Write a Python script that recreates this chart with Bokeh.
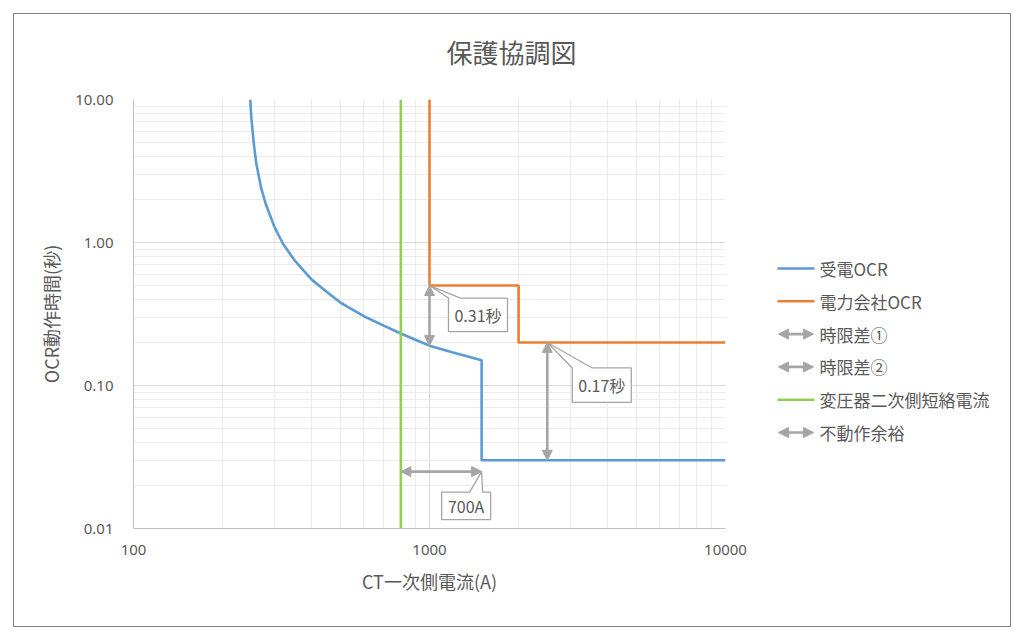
import math
from bokeh.plotting import figure
from bokeh.layouts import row
from bokeh.models import Arrow, NormalHead, FixedTicker, Range1d
from bokeh.embed import file_html
from bokeh.resources import INLINE
from bokeh.core.properties import value

# ---------------- data ----------------
title_text = "保護協調図"
x_label = "CT一次側電流(A)"
y_label = "OCR動作時間(秒)"

x_ticks = [100, 1000, 10000]
x_tick_labels = ["100", "1000", "10000"]
y_ticks = [0.01, 0.1, 1, 10]
y_tick_labels = ["0.01", "0.10", "1.00", "10.00"]

# 受電OCR
recv_I = [248, 250, 255, 260, 270, 280, 300, 320, 350, 400, 450, 500, 600, 700,
          800, 900, 1000, 1200, 1500, 1500, 10000]
recv_t = [10.0, 7.5, 4.9, 3.55, 2.4, 1.85, 1.27, 0.98, 0.75, 0.55, 0.45, 0.38, 0.305, 0.262,
          0.231, 0.208, 0.19, 0.17, 0.15, 0.03, 0.03]
# 電力会社OCR
util_I = [1000, 1000, 2000, 2000, 10000]
util_t = [10.0, 0.5, 0.5, 0.2, 0.2]
# 変圧器二次側短絡電流
tr_I = [800, 800]
tr_t = [0.01, 10.0]
# 時限差① / 時限差② / 不動作余裕
gap1_I = [1000, 1000]
gap1_t = [0.19, 0.5]
gap2_I = [2500, 2500]
gap2_t = [0.03, 0.2]
margin_I = [800, 1500]
margin_t = [0.025, 0.025]

callout_labels = ["0.31秒", "0.17秒", "700A"]
callout_anchor_I = [1000, 2500, 1500]
callout_anchor_t = [0.5, 0.2, 0.025]

legend_labels = ["受電OCR", "電力会社OCR", "時限差①", "時限差②", "変圧器二次側短絡電流", "不動作余裕"]

# ---------------- styles / geometry ----------------
BLUE, ORANGE, GREEN, GRAY = "#5B9BD5", "#ED7D31", "#92D050", "#A5A5A5"
TXT = "#595959"
JP = "Noto Sans CJK JP"
FL, FT, FW, FH = 133, 99, 592, 429      # plot frame inside the page
MW, LW, H = 760, 264, 640               # main width, legend width, height
XMIN, XMAX, YMIN, YMAX = 100, 10000, 0.01, 10


def off(ax, ay, dx, dy):
    lx = math.log10(XMAX / XMIN) / FW
    ly = math.log10(YMAX / YMIN) / FH
    return ax * 10 ** (dx * lx), ay * 10 ** (-dy * ly)


p = figure(x_axis_type="log", y_axis_type="log",
           x_range=Range1d(XMIN, XMAX), y_range=Range1d(YMIN, YMAX),
           frame_width=FW, frame_height=FH,
           min_border_left=FL, min_border_top=FT,
           min_border_right=MW - FL - FW, min_border_bottom=H - FT - FH,
           output_backend="svg", toolbar_location=None, title=title_text)
p.outline_line_color = None
p.background_fill_color = "white"
p.border_fill_color = None

p.title.align = "left"
p.title.offset = 313
p.title.standoff = 60
p.title.text_font = JP
p.title.text_font_size = "26px"
p.title.text_font_style = "normal"
p.title.text_color = TXT

x_minor = [m * 10 ** d for d in (2, 3) for m in range(1, 10)] + [10000]
y_minor = [m * 10 ** d for d in (-2, -1, 0) for m in range(1, 10)] + [10]
xt = FixedTicker(ticks=x_ticks, minor_ticks=x_minor)
yt = FixedTicker(ticks=y_ticks, minor_ticks=y_minor)
p.xaxis.ticker = xt
p.yaxis.ticker = yt
p.xgrid.ticker = xt
p.ygrid.ticker = yt
p.xaxis.major_label_overrides = {k: v for k, v in zip(x_ticks, x_tick_labels)}
p.yaxis.major_label_overrides = {k: v for k, v in zip(y_ticks, y_tick_labels)}

for g in (p.xgrid, p.ygrid):
    g.grid_line_color = "#D9D9D9"
    g.grid_line_width = 1
    g.minor_grid_line_color = "#EBEBEB"
    g.minor_grid_line_width = 1

for ax in (p.xaxis, p.yaxis):
    ax.axis_line_color = "#BFBFBF"
    ax.axis_line_width = 1
    ax.major_tick_line_color = None
    ax.minor_tick_line_color = None
    ax.major_tick_out = 0
    ax.major_tick_in = 0
    ax.minor_tick_out = 0
    ax.minor_tick_in = 0
    ax.major_label_text_color = TXT
    ax.major_label_text_font = "Noto Sans"
    ax.major_label_text_font_size = "15px"
    ax.axis_label_text_color = TXT
    ax.axis_label_text_font = JP
    ax.axis_label_text_font_size = "18px"
    ax.axis_label_text_font_style = "normal"

p.xaxis.axis_label = x_label
p.yaxis.axis_label = y_label
p.xaxis.major_label_standoff = 16
p.xaxis.axis_label_standoff = 10
p.yaxis.major_label_standoff = 20
p.yaxis.axis_label_standoff = 8

# series
p.line(recv_I, recv_t, line_color=BLUE, line_width=2.6)
p.line(util_I, util_t, line_color=ORANGE, line_width=2.6)
p.line(tr_I, tr_t, line_color=GREEN, line_width=2.6)


def head():
    return NormalHead(size=10, fill_color=GRAY, line_color=GRAY, line_width=1)


for xs, ys in ((gap1_I, gap1_t), (gap2_I, gap2_t), (margin_I, margin_t)):
    p.add_layout(Arrow(x_start=xs[0], y_start=ys[0], x_end=xs[1], y_end=ys[1],
                       start=head(), end=head(), line_color=GRAY, line_width=2.6))

# callouts (pixel offsets of box / wedge relative to their anchor)
callout_geom = [  # L, R, T, B, wedge-left, wedge-right
    (19, 78, 12.5, 46, 19, 31),
    (25, 84, 25.5, 60, 25, 45),
    (-40, 9, 20.5, 48, -12, 1),
]
cxs, cys, tx, ty = [], [], [], []
for (ax_, ay_), (L, R, T, B, wl, wr) in zip(zip(callout_anchor_I, callout_anchor_t), callout_geom):
    pts = [(L, T), (wl, T), (0, 0), (wr, T), (R, T), (R, B), (L, B)]
    xy = [off(ax_, ay_, dx, dy) for dx, dy in pts]
    cxs.append([a for a, b in xy])
    cys.append([b for a, b in xy])
    c = off(ax_, ay_, (L + R) / 2, (T + B) / 2)
    tx.append(c[0])
    ty.append(c[1])
p.patches(cxs, cys, fill_color="white", line_color=GRAY, line_width=1.3)
p.text(tx, ty, text=callout_labels, text_font=value(JP), text_font_size="16px",
       text_color=TXT, text_align="center", text_baseline="middle")

# ---------------- legend panel (page pixel coordinates, y downward) ----------------
# the row aligns this panel's frame with the main frame (page y FT .. FT+FH)
lg = figure(width=LW, height=H, x_range=Range1d(MW, MW + LW), y_range=Range1d(FT + FH, FT),
            min_border=0, x_axis_location=None, y_axis_location=None,
            output_backend="svg", toolbar_location=None, title=None)
lg.grid.visible = False
lg.outline_line_color = None
lg.background_fill_color = None
lg.border_fill_color = None

legend_kind = ["line", "line", "arrow", "arrow", "line", "arrow"]
legend_color = [BLUE, ORANGE, GRAY, GRAY, GREEN, GRAY]
leg_y = [268 + i * 32.8 for i in range(len(legend_labels))]
for yy, kind, col in zip(leg_y, legend_kind, legend_color):
    if kind == "line":
        lg.segment(x0=[777], y0=[yy], x1=[814], y1=[yy], line_color=col, line_width=2.6)
    else:
        lg.add_layout(Arrow(x_start=778, y_start=yy, x_end=813, y_end=yy,
                            start=head(), end=head(), line_color=col, line_width=2.6))
lg.text(x=[819] * len(legend_labels), y=leg_y, text=legend_labels,
        text_font=value(JP), text_font_size="17px", text_color=TXT,
        text_align="left", text_baseline="middle")

layout = row(p, lg, styles={"outline": "1.5px solid #7F7F7F", "outline-offset": "-14px",
                            "background": "white"})

open("out.html", "w").write(file_html(layout, INLINE))
